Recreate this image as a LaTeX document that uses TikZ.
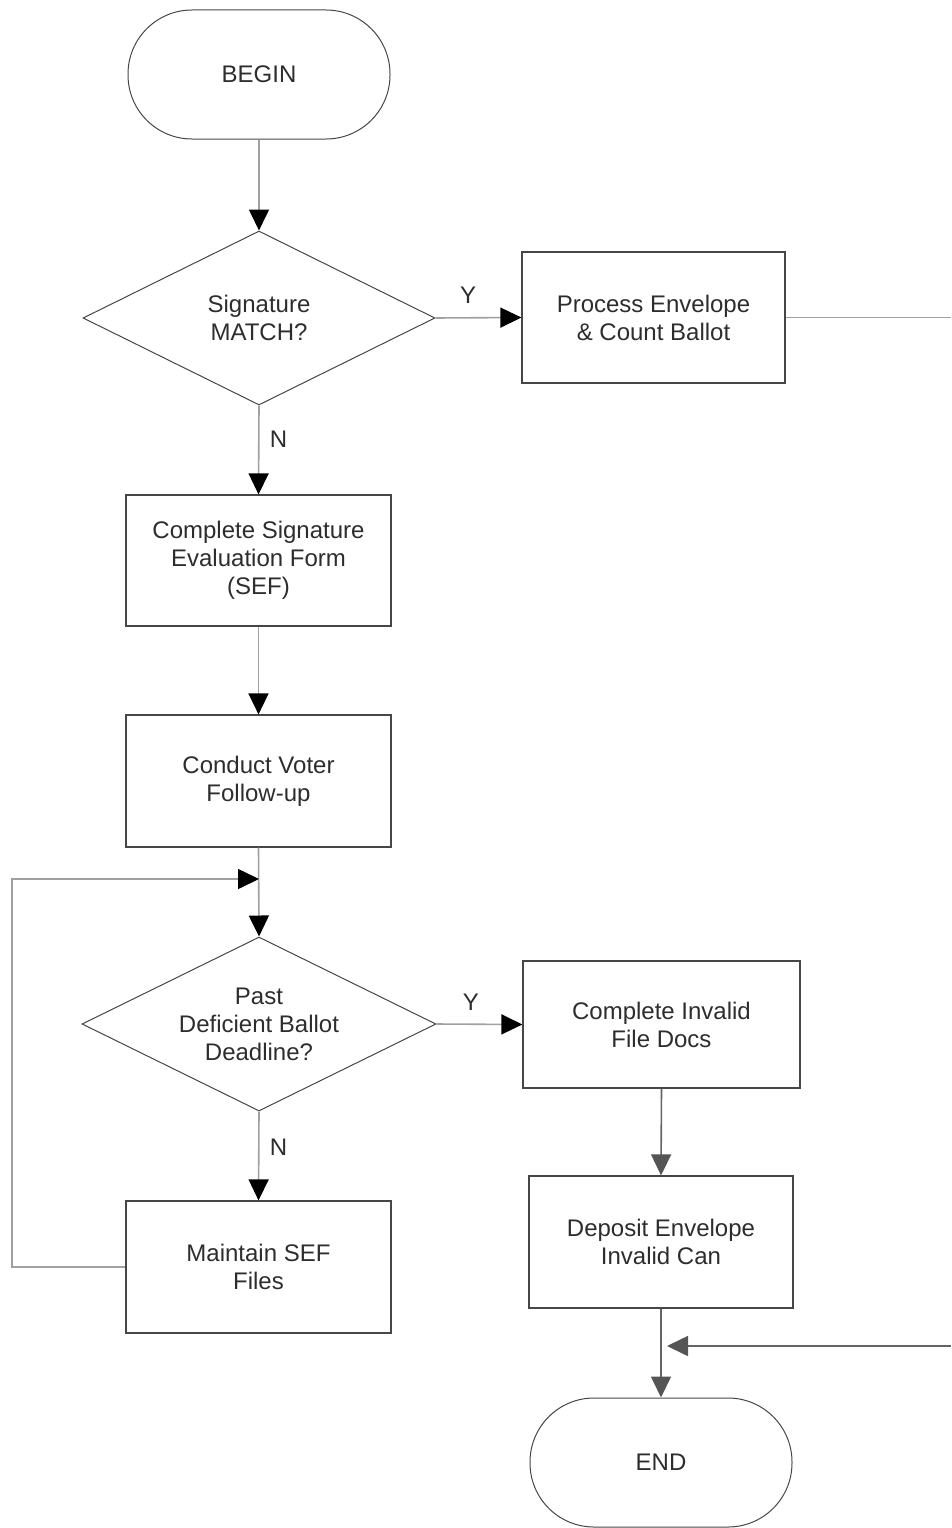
\documentclass[tikz,border=0pt]{standalone}
\usepackage{fontspec}
\setmainfont{Liberation Sans}
\usetikzlibrary{shapes.geometric,arrows.meta}
\definecolor{txtc}{RGB}{45,45,45}
\definecolor{boxc}{RGB}{70,70,70}
\definecolor{linec}{RGB}{160,160,160}
\definecolor{tipdark}{RGB}{85,85,85}
\begin{document}
\begin{tikzpicture}[x=1pt,y=-1pt,
  every node/.style={font=\fontsize{24}{28}\selectfont, text=txtc, align=center},
  procbox/.style={draw=boxc, line width=1.2pt, rectangle, inner sep=0pt},
  term/.style={draw=boxc, line width=1pt, rectangle, rounded corners=64pt, minimum width=262pt, minimum height=129pt, inner sep=0pt},
  dia/.style={draw=boxc, line width=1pt, diamond, minimum width=352pt, minimum height=174pt, inner sep=0pt},
  lbl/.style={font=\fontsize{24}{28}\selectfont, text=txtc, align=center},
  conn/.style={draw=linec, line width=1.6pt},
  arr/.style={conn, -{Triangle[length=21pt,width=20pt,color=black]}},
  arrd/.style={draw=tipdark!80!linec, line width=1.6pt, -{Triangle[length=21pt,width=20pt, color=tipdark]}},
  yn/.style={font=\fontsize{24}{28}\selectfont, text=txtc}
]
\useasboundingbox (0,0) rectangle (951,1528);

\node[term] (b) at (259,74.5) {BEGIN};
\node[dia, label={[lbl]center:{Signature\\MATCH?}}] (d1) at (259,318) {};
\node[procbox, minimum width=263pt, minimum height=131pt] (p) at (653.5,317.5) {Process Envelope\\\& Count Ballot};
\node[procbox, minimum width=265pt, minimum height=131pt] (s) at (258.5,560.5) {Complete Signature\\Evaluation Form\\(SEF)};
\node[procbox, minimum width=265pt, minimum height=132pt] (c) at (258.5,781) {Conduct Voter\\Follow-up};
\node[dia, minimum width=354pt, label={[lbl]center:{Past\\Deficient Ballot\\Deadline?}}] (d2) at (259,1024) {};
\node[procbox, minimum width=277pt, minimum height=127pt] (ci) at (661.5,1024.5) {Complete Invalid\\File Docs};
\node[procbox, minimum width=264pt, minimum height=132pt] (dp) at (661,1242) {Deposit Envelope\\Invalid Can};
\node[procbox, minimum width=265pt, minimum height=132pt] (m) at (258.5,1267) {Maintain SEF\\Files};
\node[term] (e) at (661,1462.5) {END};

\coordinate (rp) at (951,318);
\coordinate (re) at (951,1346);
\coordinate (lp) at (12,879);

\draw[arr] (b.south) -- (d1.north);
\draw[arr] (d1.east) -- (p.west) node[yn, pos=0.38, above=10pt] {Y};
\draw[arr] (d1.south) -- (s.north) node[yn, pos=0.38, right=7pt] {N};
\draw[conn] (p.east) -- (p.east -| rp);
\draw[arr] (s.south) -- (c.north);
\draw[arr] (c.south) -- (d2.north);
\draw[arr] (m.west) -| (lp) -- (lp -| d2.north);
\draw[arr] (d2.east) -- (ci.west) node[yn, pos=0.4, above=10pt] {Y};
\draw[arr] (d2.south) -- (m.north) node[yn, pos=0.4, right=7pt] {N};
\draw[arrd] (ci.south) -- (dp.north);
\draw[arrd] (dp.south) -- (e.north);
\draw[arrd, shorten >=6pt] (re) -- (re -| e.north);
\end{tikzpicture}
\end{document}
